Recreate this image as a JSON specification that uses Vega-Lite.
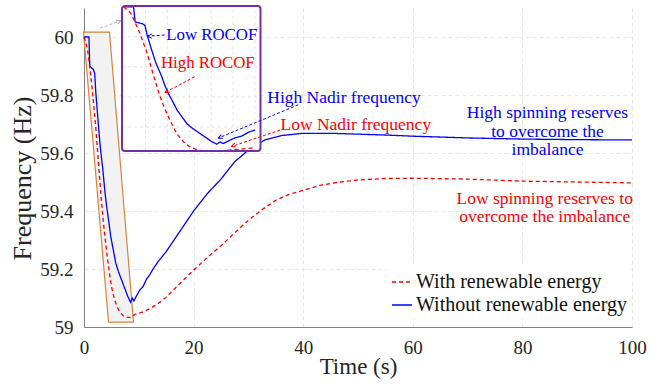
{
  "$schema": "https://vega.github.io/schema/vega-lite/v6.json",
  "width": 548,
  "height": 319,
  "autosize": {"type": "none"},
  "padding": {"left": 84, "top": 8, "right": 32, "bottom": 61},
  "background": "white",
  "config": {
    "font": "Liberation Serif, DejaVu Serif, serif",
    "view": {"stroke": null},
    "axis": {
      "domainColor": "#808080", "domainWidth": 1, "ticks": false,
      "labelFont": "Liberation Serif, DejaVu Serif, serif", "labelFontSize": 19, "labelColor": "#262626",
      "titleFont": "Liberation Serif, DejaVu Serif, serif", "titleFontSize": 23, "titleFontWeight": "normal", "titleColor": "#262626",
      "gridColor": "#e2e2e2", "gridDash": [4, 3], "gridWidth": 0.8, "labelFlush": false
    },
    "axisX": {"labelPadding": 11, "titlePadding": -2},
    "axisY": {"labelPadding": 11, "titlePadding": 4, "titleFontSize": 26, "titleY": 170},
    "legend": {
      "labelFont": "Liberation Serif, DejaVu Serif, serif", "labelFontSize": 20, "labelColor": "#111111", "labelLimit": 400,
      "symbolType": "stroke", "symbolSize": 400, "symbolStrokeWidth": 1.5,
      "fillColor": "white", "padding": 4, "rowPadding": 2, "labelOffset": 3
    }
  },
  "datasets": {
    "curves": [
      {"series": "Without renewable energy", "t": 0, "f": 60.0},
      {"series": "Without renewable energy", "t": 0.9, "f": 60.0},
      {"series": "Without renewable energy", "t": 1.05, "f": 59.9},
      {"series": "Without renewable energy", "t": 1.4, "f": 59.893},
      {"series": "Without renewable energy", "t": 1.7, "f": 59.888},
      {"series": "Without renewable energy", "t": 1.95, "f": 59.875},
      {"series": "Without renewable energy", "t": 2.15, "f": 59.81},
      {"series": "Without renewable energy", "t": 2.4, "f": 59.75},
      {"series": "Without renewable energy", "t": 2.7, "f": 59.68},
      {"series": "Without renewable energy", "t": 3.0, "f": 59.615},
      {"series": "Without renewable energy", "t": 3.4, "f": 59.55},
      {"series": "Without renewable energy", "t": 3.8, "f": 59.47},
      {"series": "Without renewable energy", "t": 4.1, "f": 59.42},
      {"series": "Without renewable energy", "t": 4.4, "f": 59.38},
      {"series": "Without renewable energy", "t": 4.9, "f": 59.31},
      {"series": "Without renewable energy", "t": 5.3, "f": 59.27},
      {"series": "Without renewable energy", "t": 5.8, "f": 59.22},
      {"series": "Without renewable energy", "t": 6.3, "f": 59.19},
      {"series": "Without renewable energy", "t": 6.9, "f": 59.16},
      {"series": "Without renewable energy", "t": 7.5, "f": 59.13},
      {"series": "Without renewable energy", "t": 8.0, "f": 59.105},
      {"series": "Without renewable energy", "t": 8.5, "f": 59.085},
      {"series": "Without renewable energy", "t": 8.8, "f": 59.1},
      {"series": "Without renewable energy", "t": 9.1, "f": 59.09},
      {"series": "Without renewable energy", "t": 9.6, "f": 59.108},
      {"series": "Without renewable energy", "t": 10.2, "f": 59.128},
      {"series": "Without renewable energy", "t": 10.8, "f": 59.14},
      {"series": "Without renewable energy", "t": 11.4, "f": 59.165},
      {"series": "Without renewable energy", "t": 12.0, "f": 59.18},
      {"series": "Without renewable energy", "t": 12.6, "f": 59.2},
      {"series": "Without renewable energy", "t": 13.5, "f": 59.225},
      {"series": "Without renewable energy", "t": 15.0, "f": 59.26},
      {"series": "Without renewable energy", "t": 17.5, "f": 59.33},
      {"series": "Without renewable energy", "t": 20, "f": 59.4},
      {"series": "Without renewable energy", "t": 22.5, "f": 59.46},
      {"series": "Without renewable energy", "t": 25, "f": 59.51},
      {"series": "Without renewable energy", "t": 27.5, "f": 59.57},
      {"series": "Without renewable energy", "t": 30, "f": 59.61},
      {"series": "Without renewable energy", "t": 33, "f": 59.645},
      {"series": "Without renewable energy", "t": 36, "f": 59.66},
      {"series": "Without renewable energy", "t": 40, "f": 59.668},
      {"series": "Without renewable energy", "t": 45, "f": 59.668},
      {"series": "Without renewable energy", "t": 50, "f": 59.665},
      {"series": "Without renewable energy", "t": 55, "f": 59.662},
      {"series": "Without renewable energy", "t": 60, "f": 59.658},
      {"series": "Without renewable energy", "t": 70, "f": 59.652},
      {"series": "Without renewable energy", "t": 80, "f": 59.648},
      {"series": "Without renewable energy", "t": 90, "f": 59.646},
      {"series": "Without renewable energy", "t": 100, "f": 59.645},
      {"series": "With renewable energy", "t": 0, "f": 60.0},
      {"series": "With renewable energy", "t": 0.3, "f": 59.98},
      {"series": "With renewable energy", "t": 0.6, "f": 59.962},
      {"series": "With renewable energy", "t": 0.9, "f": 59.92},
      {"series": "With renewable energy", "t": 1.2, "f": 59.87},
      {"series": "With renewable energy", "t": 1.5, "f": 59.82},
      {"series": "With renewable energy", "t": 2.1, "f": 59.7},
      {"series": "With renewable energy", "t": 2.7, "f": 59.55},
      {"series": "With renewable energy", "t": 3.2, "f": 59.43},
      {"series": "With renewable energy", "t": 3.7, "f": 59.33},
      {"series": "With renewable energy", "t": 4.2, "f": 59.25},
      {"series": "With renewable energy", "t": 4.6, "f": 59.19},
      {"series": "With renewable energy", "t": 5.0, "f": 59.14},
      {"series": "With renewable energy", "t": 5.5, "f": 59.1},
      {"series": "With renewable energy", "t": 6.0, "f": 59.07},
      {"series": "With renewable energy", "t": 6.6, "f": 59.05},
      {"series": "With renewable energy", "t": 7.2, "f": 59.038},
      {"series": "With renewable energy", "t": 8.0, "f": 59.033},
      {"series": "With renewable energy", "t": 8.6, "f": 59.033},
      {"series": "With renewable energy", "t": 9.0, "f": 59.04},
      {"series": "With renewable energy", "t": 9.6, "f": 59.046},
      {"series": "With renewable energy", "t": 10.5, "f": 59.05},
      {"series": "With renewable energy", "t": 12, "f": 59.063},
      {"series": "With renewable energy", "t": 13.5, "f": 59.08},
      {"series": "With renewable energy", "t": 15, "f": 59.103},
      {"series": "With renewable energy", "t": 17.5, "f": 59.15},
      {"series": "With renewable energy", "t": 20, "f": 59.196},
      {"series": "With renewable energy", "t": 22.5, "f": 59.24},
      {"series": "With renewable energy", "t": 25, "f": 59.28},
      {"series": "With renewable energy", "t": 27.5, "f": 59.325},
      {"series": "With renewable energy", "t": 30, "f": 59.368},
      {"series": "With renewable energy", "t": 32.5, "f": 59.405},
      {"series": "With renewable energy", "t": 35, "f": 59.437},
      {"series": "With renewable energy", "t": 37.5, "f": 59.458},
      {"series": "With renewable energy", "t": 40, "f": 59.471},
      {"series": "With renewable energy", "t": 43, "f": 59.488},
      {"series": "With renewable energy", "t": 46.7, "f": 59.5},
      {"series": "With renewable energy", "t": 50, "f": 59.507},
      {"series": "With renewable energy", "t": 55, "f": 59.512},
      {"series": "With renewable energy", "t": 60, "f": 59.513},
      {"series": "With renewable energy", "t": 70, "f": 59.51},
      {"series": "With renewable energy", "t": 80, "f": 59.503},
      {"series": "With renewable energy", "t": 90, "f": 59.5},
      {"series": "With renewable energy", "t": 100, "f": 59.497}
    ]
  },
  "layer": [
    {
      "layer": [
        {
          "data": {"values": [
            {"xb": -0.09, "top": 60.017, "bot": 60.017},
            {"xb": 4.47, "top": 60.017, "bot": 59.017},
            {"xb": 4.65, "top": 60.017, "bot": 59.017},
            {"xb": 9.03, "top": 59.017, "bot": 59.017}
          ]},
          "mark": {"type": "area", "orient": "vertical", "fill": "#f2f2f2", "stroke": "#d9823b", "strokeWidth": 1.2, "strokeJoin": "round"},
          "encoding": {
            "x": {"field": "xb", "type": "quantitative", "scale": {"domain": [0, 100], "nice": false, "zero": false},
                  "axis": {"values": [0, 20, 40, 60, 80, 100], "grid": true, "title": "Time (s)"}},
            "y": {"field": "top", "type": "quantitative", "scale": {"domain": [59, 60.1], "nice": false, "zero": false},
                  "axis": {"values": [59, 59.2, 59.4, 59.6, 59.8, 60], "format": "~g", "grid": true, "title": "Frequency (Hz)"}},
            "y2": {"field": "bot"}
          }
        },
        {
          "data": {"name": "curves"},
          "mark": {"type": "line", "strokeWidth": 1.3},
          "encoding": {
            "x": {"field": "t", "type": "quantitative",
                  "axis": {"values": [0, 20, 40, 60, 80, 100], "grid": true, "title": "Time (s)"}},
            "y": {"field": "f", "type": "quantitative",
                  "axis": {"values": [59, 59.2, 59.4, 59.6, 59.8, 60], "format": "~g", "grid": true, "title": "Frequency (Hz)"}},
            "color": {"field": "series", "type": "nominal",
                      "scale": {"domain": ["With renewable energy", "Without renewable energy"], "range": ["#ff0000", "#0000ff"]},
                      "legend": {"title": null, "orient": "none", "legendX": 303, "legendY": 259}},
            "strokeDash": {"field": "series", "type": "nominal",
                      "scale": {"domain": ["With renewable energy", "Without renewable energy"], "range": [[4, 3], [1, 0]]},
                      "legend": {"title": null, "orient": "none", "legendX": 303, "legendY": 259}}
          }
        }
      ]
    },
    {
      "layer": [
        {
          "data": {"values": [{}]},
          "mark": {"type": "rect", "fill": "white", "cornerRadius": 3},
          "encoding": {
            "x": {"datum": -0.15, "type": "quantitative", "scale": {"domain": [-0.15, 12.5], "range": [38, 176.5], "nice": false, "zero": false}, "axis": null},
            "x2": {"datum": 12.5},
            "y": {"datum": 59.04, "type": "quantitative", "scale": {"domain": [59.04, 60.005], "range": [143, -2], "nice": false, "zero": false, "clamp": true}, "axis": null},
            "y2": {"datum": 60.005}
          }
        },
        {
          "data": {"values": [{"g": 2}, {"g": 4}, {"g": 6}, {"g": 8}, {"g": 10}, {"g": 12}]},
          "mark": {"type": "rule", "stroke": "#dcdcdc", "strokeDash": [3, 3], "strokeWidth": 0.8},
          "encoding": {
            "x": {"field": "g", "type": "quantitative", "axis": null},
            "y": {"datum": 59.04, "type": "quantitative", "axis": null},
            "y2": {"datum": 60.005}
          }
        },
        {
          "data": {"values": [{"h": 59.2}, {"h": 59.4}, {"h": 59.6}, {"h": 59.8}]},
          "mark": {"type": "rule", "stroke": "#dcdcdc", "strokeDash": [3, 3], "strokeWidth": 0.8},
          "encoding": {
            "y": {"field": "h", "type": "quantitative", "axis": null},
            "x": {"datum": -0.15, "type": "quantitative", "axis": null},
            "x2": {"datum": 12.5}
          }
        },
        {
          "data": {"name": "curves"},
          "transform": [{"filter": "datum.t <= 12.5"}],
          "mark": {"type": "line", "strokeWidth": 1.3},
          "encoding": {
            "x": {"field": "t", "type": "quantitative", "axis": null},
            "y": {"field": "f", "type": "quantitative", "axis": null},
            "color": {"field": "series", "type": "nominal",
                      "scale": {"domain": ["With renewable energy", "Without renewable energy"], "range": ["#ff0000", "#0000ff"]},
                      "legend": {"title": null, "orient": "none", "legendX": 303, "legendY": 259}},
            "strokeDash": {"field": "series", "type": "nominal",
                      "scale": {"domain": ["With renewable energy", "Without renewable energy"], "range": [[4, 3], [1, 0]]},
                      "legend": {"title": null, "orient": "none", "legendX": 303, "legendY": 259}}
          }
        },
        {
          "data": {"values": [{}]},
          "mark": {"type": "rect", "fill": null, "fillOpacity": 0, "stroke": "#7330a6", "strokeWidth": 2, "cornerRadius": 3},
          "encoding": {
            "x": {"datum": -0.15, "type": "quantitative", "axis": null},
            "x2": {"datum": 12.5},
            "y": {"datum": 59.04, "type": "quantitative", "axis": null},
            "y2": {"datum": 60.005}
          }
        }
      ]
    },
    {
      "layer": [
        {
          "data": {"values": [{"t": 2.92, "f": 60.031, "t2": 6.75, "f2": 60.056}]},
          "layer": [
            {"mark": {"type": "rule", "stroke": "#b0b0b0", "strokeDash": [3, 2], "strokeWidth": 1},
             "encoding": {
               "x": {"field": "t", "type": "quantitative", "scale": {"domain": [0, 100], "nice": false, "zero": false}, "axis": null},
               "y": {"field": "f", "type": "quantitative", "scale": {"domain": [59, 60.1], "nice": false, "zero": false}, "axis": null},
               "x2": {"field": "t2"}, "y2": {"field": "f2"}}},
            {"mark": {"type": "point", "shape": "M0,0L1,-0.45M0,0L1,0.45", "filled": false, "color": "#b0b0b0", "strokeWidth": 1, "size": 80, "angle": 161, "opacity": 1},
             "encoding": {"x": {"field": "t2", "type": "quantitative", "axis": null}, "y": {"field": "f2", "type": "quantitative", "axis": null}}}
          ]
        },
        {
          "data": {"values": [{"t": 14.72, "f": 60.007, "t2": 11.55, "f2": 60.003}]},
          "layer": [
            {"mark": {"type": "rule", "stroke": "#0000ff", "strokeDash": [3, 2], "strokeWidth": 1},
             "encoding": {"x": {"field": "t", "type": "quantitative", "axis": null}, "y": {"field": "f", "type": "quantitative", "axis": null}, "x2": {"field": "t2"}, "y2": {"field": "f2"}}},
            {"mark": {"type": "point", "shape": "M0,0L1,-0.45M0,0L1,0.45", "filled": false, "color": "#0000ff", "strokeWidth": 1, "size": 80, "angle": 0, "opacity": 1},
             "encoding": {"x": {"field": "t2", "type": "quantitative", "axis": null}, "y": {"field": "f2", "type": "quantitative", "axis": null}}}
          ]
        },
        {
          "data": {"values": [{"t": 20.2, "f": 59.863, "t2": 14.73, "f2": 59.808}]},
          "layer": [
            {"mark": {"type": "rule", "stroke": "#ff0000", "strokeDash": [3, 2], "strokeWidth": 1},
             "encoding": {"x": {"field": "t", "type": "quantitative", "axis": null}, "y": {"field": "f", "type": "quantitative", "axis": null}, "x2": {"field": "t2"}, "y2": {"field": "f2"}}},
            {"mark": {"type": "point", "shape": "M0,0L1,-0.45M0,0L1,0.45", "filled": false, "color": "#ff0000", "strokeWidth": 1, "size": 80, "angle": 332, "opacity": 1},
             "encoding": {"x": {"field": "t2", "type": "quantitative", "axis": null}, "y": {"field": "f2", "type": "quantitative", "axis": null}}}
          ]
        },
        {
          "data": {"values": [{"t": 39.1, "f": 59.766, "t2": 24.45, "f2": 59.651}]},
          "layer": [
            {"mark": {"type": "rule", "stroke": "#0000ff", "strokeDash": [3, 2], "strokeWidth": 1},
             "encoding": {"x": {"field": "t", "type": "quantitative", "axis": null}, "y": {"field": "f", "type": "quantitative", "axis": null}, "x2": {"field": "t2"}, "y2": {"field": "f2"}}},
            {"mark": {"type": "point", "shape": "M0,0L1,-0.45M0,0L1,0.45", "filled": false, "color": "#0000ff", "strokeWidth": 1, "size": 80, "angle": 336, "opacity": 1},
             "encoding": {"x": {"field": "t2", "type": "quantitative", "axis": null}, "y": {"field": "f2", "type": "quantitative", "axis": null}}}
          ]
        },
        {
          "data": {"values": [{"t": 35.77, "f": 59.679, "t2": 26.88, "f2": 59.622}]},
          "layer": [
            {"mark": {"type": "rule", "stroke": "#ff0000", "strokeDash": [3, 2], "strokeWidth": 1},
             "encoding": {"x": {"field": "t", "type": "quantitative", "axis": null}, "y": {"field": "f", "type": "quantitative", "axis": null}, "x2": {"field": "t2"}, "y2": {"field": "f2"}}},
            {"mark": {"type": "point", "shape": "M0,0L1,-0.45M0,0L1,0.45", "filled": false, "color": "#ff0000", "strokeWidth": 1, "size": 80, "angle": 339, "opacity": 1},
             "encoding": {"x": {"field": "t2", "type": "quantitative", "axis": null}, "y": {"field": "f2", "type": "quantitative", "axis": null}}}
          ]
        },
        {
          "data": {"values": [{"label": "Low ROCOF", "t": 15.02, "f": 60.007}]},
          "mark": {"type": "text", "align": "left", "baseline": "middle", "fontSize": 16.8, "color": "#0000ff"},
          "encoding": {"x": {"field": "t", "type": "quantitative", "axis": null}, "y": {"field": "f", "type": "quantitative", "axis": null}, "text": {"field": "label"}}
        },
        {
          "data": {"values": [{"label": "High ROCOF", "t": 22.6, "f": 59.909}]},
          "mark": {"type": "text", "align": "center", "baseline": "middle", "fontSize": 16.8, "color": "#ff0000"},
          "encoding": {"x": {"field": "t", "type": "quantitative", "axis": null}, "y": {"field": "f", "type": "quantitative", "axis": null}, "text": {"field": "label"}}
        },
        {
          "data": {"values": [{"label": "High Nadir frequency", "t": 47.45, "f": 59.789}, {"label": "High spinning reserves\nto overcome the\nimbalance", "t": 84.58, "f": 59.737}]},
          "mark": {"type": "text", "align": "center", "baseline": "middle", "fontSize": 17.5, "color": "#0000ff", "lineBreak": "\n", "lineHeight": 18.3},
          "encoding": {"x": {"field": "t", "type": "quantitative", "axis": null}, "y": {"field": "f", "type": "quantitative", "axis": null}, "text": {"field": "label"}}
        },
        {
          "data": {"values": [{"label": "Low Nadir frequency", "t": 49.6, "f": 59.697}, {"label": "Low spinning reserves to\novercome the imbalance", "t": 84.07, "f": 59.441}]},
          "mark": {"type": "text", "align": "center", "baseline": "middle", "fontSize": 17.5, "color": "#ff0000", "lineBreak": "\n", "lineHeight": 18.3},
          "encoding": {"x": {"field": "t", "type": "quantitative", "axis": null}, "y": {"field": "f", "type": "quantitative", "axis": null}, "text": {"field": "label"}}
        }
      ]
    }
  ],
  "resolve": {"scale": {"x": "independent", "y": "independent"}}
}
